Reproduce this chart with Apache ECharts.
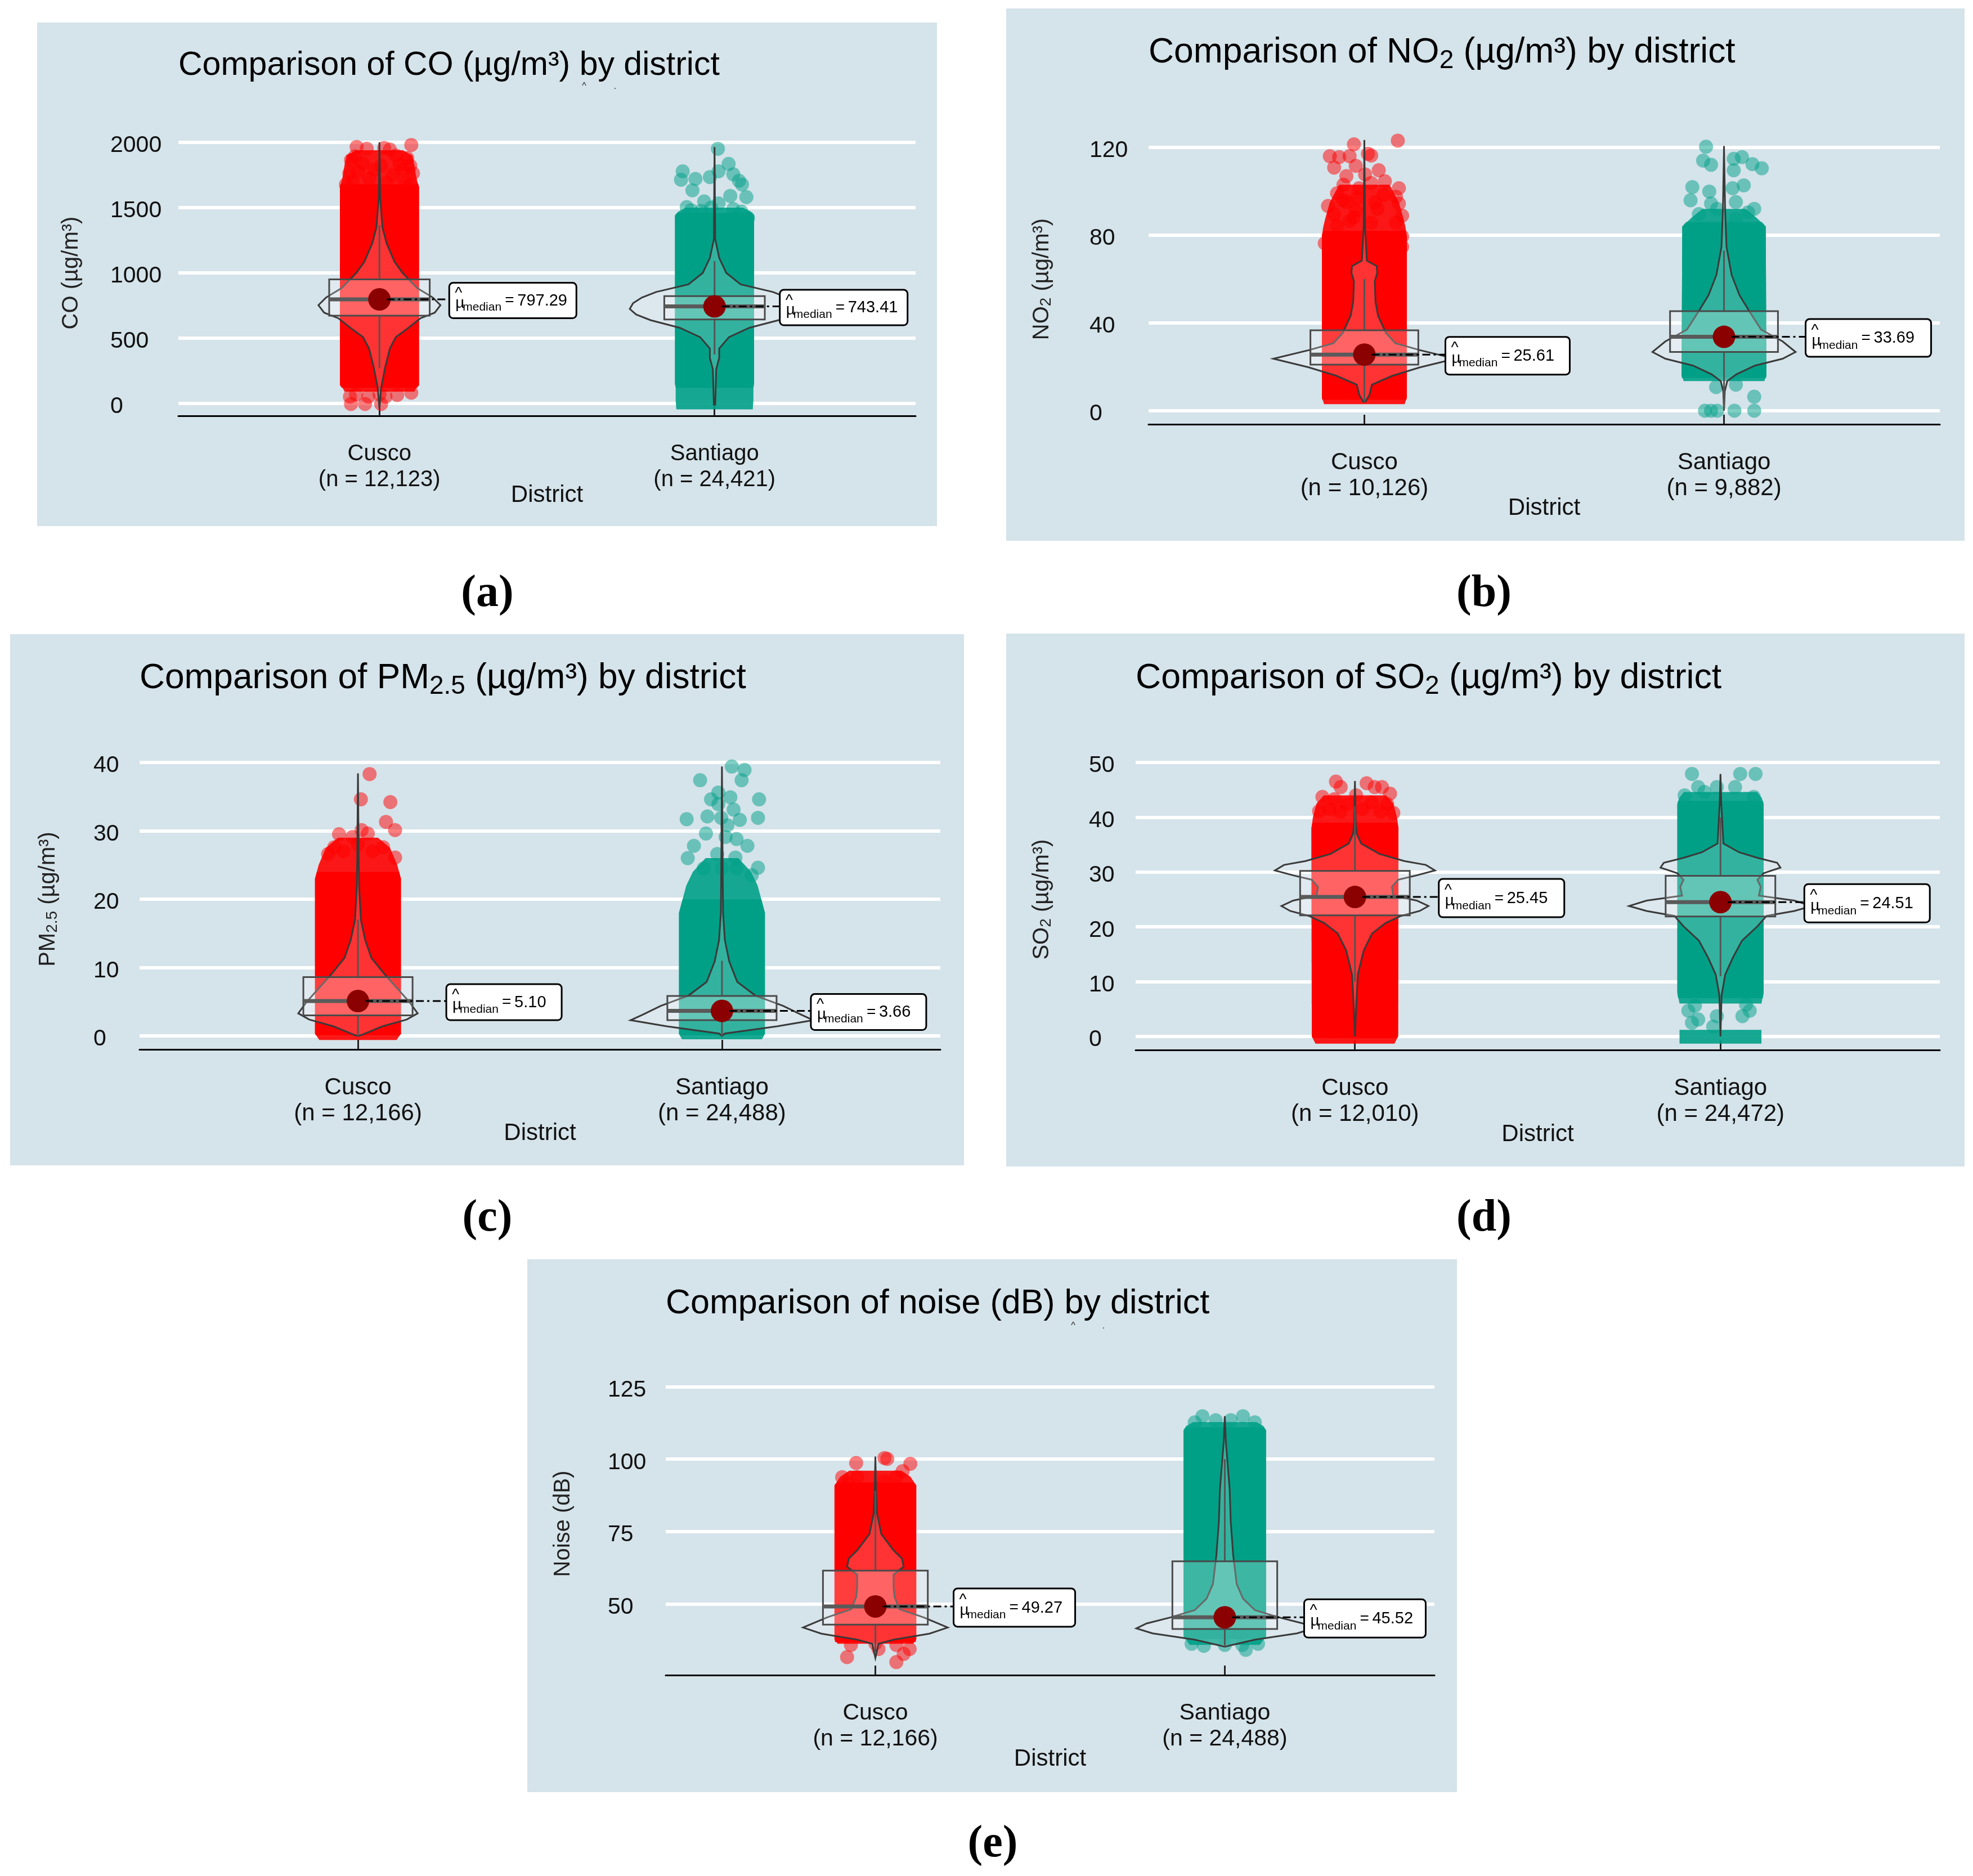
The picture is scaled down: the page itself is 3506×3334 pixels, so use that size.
<!DOCTYPE html>
<html><head><meta charset="utf-8"><style>html,body{margin:0;padding:0;background:#fff}#c{width:3506px;height:3334px}</style>
<script src="https://cdn.jsdelivr.net/npm/echarts@6/dist/echarts.min.js"></script></head><body><div id="c"></div>
<script>
const categories=['Cusco','Santiago'];
// sample sizes
const nCO=['12,123','24,421'],nNO2=['10,126','9,882'],nPM=['12,166','24,488'],nSO2=['12,010','24,472'],nNoise=['12,166','24,488'];
// medians
const medCO=[797.29,743.41],medNO2=[25.61,33.69],medPM=['5.10','3.66'],medSO2=[25.45,24.51],medNoise=[49.27,45.52];
// y axis ticks
const ticksCO=[0,500,1000,1500,2000],ticksNO2=[0,40,80,120],ticksPM=[0,10,20,30,40],ticksSO2=[0,10,20,30,40,50],ticksNoise=[50,75,100,125];
// boxes: group, q1, q3, lower whisker, upper whisker
const boxCO=[[1,672,950,270,1367],[2,643,822,375,1090]];
const boxNO2=[[1,21,36.7,4,60],[2,26.8,45.4,0,73]];
const boxPM=[[1,3,8.6,0,17],[2,2.3,5.85,0,11]];
const boxSO2=[[1,22.1,30.2,10,42],[2,21.9,29.3,11,40]];
const boxNoise=[[1,43,61.6,33,89],[2,41.5,64.8,35.4,100]];
// violin profiles: value, half width on the district axis
const vioCOcY=[2000,1580,1350,1230,1085,1000,883,810,753,695,652,580,508,421,277,118,-40],vioCOcW=[0,.002,.009,.021,.045,.069,.113,.16,.182,.165,.122,.087,.049,.031,.017,.005,0];
const vioCOsY=[1965,1258,1114,1000,912,854,811,768,724,681,638,580,508,421,349,262,-10],vioCOsW=[0,.002,.014,.035,.078,.174,.217,.243,.253,.234,.191,.104,.043,.014,.014,.005,.002];
const vioNOcY=[123.4,82.6,68.4,66,63,59,49.6,43.3,35.5,30.8,27.6,23.7,19.8,15.9,11.9,7.2,4.1],vioNOcW=[0,.002,.007,.034,.036,.029,.031,.038,.06,.086,.155,.253,.155,.077,.021,.014,.003];
const vioNOsY=[120.6,92,74.7,62,52.7,45.7,37,31.6,26.8,23.7,20.6,16.6,13.5,8.8,0],vioNOsW=[0,.003,.007,.021,.043,.069,.103,.163,.199,.163,.086,.034,.009,.002,0];
const vioPMcY=[38.4,26,22,17,14,11.4,8.9,6.9,4.9,3.3,2.4,1.4,.1,0],vioPMcW=[0,.002,.003,.008,.02,.037,.075,.109,.142,.164,.134,.067,.008,0];
const vioPMsY=[39.4,24,18,14,10.9,7.9,5.9,4.4,3.1,2.3,1.4,.35,0],vioPMsW=[0,.002,.003,.008,.02,.042,.092,.168,.218,.251,.151,.008,0];
const vioSOcY=[46.6,38.9,37,35.2,33.3,32,31.3,30.3,29.4,28.6,27.3,25.7,24.8,23.8,22.9,22,20.7,18.8,15.7,11.3,5,0],vioSOcW=[0,.002,.005,.017,.067,.135,.194,.219,.169,.118,.101,.105,.169,.201,.177,.126,.084,.047,.024,.008,.003,0];
const vioSOsY=[47.9,42.7,35.2,33.6,32.6,31.7,30.8,29.8,28.6,27.3,25.7,24.8,23.8,22.9,22,20.1,17.5,14.4,11.3,7.5,0],vioSOsW=[0,.002,.008,.051,.101,.155,.164,.118,.101,.11,.105,.202,.25,.202,.126,.101,.059,.034,.013,.003,0];
const vioNcY=[100.9,88.2,81.2,74.2,68.6,65.8,63,60.2,56,52.5,48.3,45.5,42,39.9,37.8,36.4,31.5],vioNcW=[0,.002,.005,.017,.052,.076,.081,.052,.052,.055,.069,.138,.207,.155,.052,.009,0];
const vioNsY=[114.8,106,89.5,78.4,67,57,52,48,45.5,43.4,41.7,40,37.8,35.4],vioNsW=[0,.003,.014,.017,.024,.034,.052,.086,.155,.224,.253,.207,.086,0];
// outer limits of the solid mass of overlapping observations
const massCOcY=[120,140,1660,1680],massCOcW=[.112,.118,.118,.116];
const massCOsY=[120,150,1440,1460],massCOsW=[.115,.118,.118,.112];
const massNOcY=[5,6,80,82],massNOcW=[.117,.118,.118,.112];
const massNOsY=[15,16,84,86],massNOsW=[.117,.118,.116,.105];
const massPMcY=[.1,.3,23,24],massPMcW=[.115,.118,.118,.113];
const massPMsY=[.1,.3,18,20],massPMsW=[.116,.118,.118,.108];
const massSOcY=[-.3,0,38,39],massSOcW=[.115,.118,.119,.116];
const massSOsY=[7,8,42.4,43],massSOsW=[.116,.118,.118,.116];
const massNcY=[37,38,91,92],massNcW=[.115,.117,.117,.11];
const massNsY=[38,39,110,111],massNsW=[.116,.118,.118,.112];
// thinner, partly see-through zones of the same mass
const hazeCOc=[[[90,.104],[130,.112],[140,.118],[1660,.118],[1700,.113],[1760,.108],[1830,.104],[1900,.098],[1940,.07]]];
const hazeCOs=[[[-45,.114],[25,.116],[120,.116],[150,.118],[1440,.118],[1470,.108],[1500,.085]]];
const hazeNOc=[[[3,.112],[6,.118],[80,.118],[84,.114],[88,.108],[95,.096],[103,.07]]];
const hazeNOs=[[[13.5,.112],[16,.118],[84,.116],[88,.09],[92,.06]]];
const hazePMc=[[[-.6,.106],[.3,.118],[23,.118],[25,.108],[27.5,.088],[29,.055]]];
const hazePMs=[[[-.5,.11],[.3,.118],[18,.118],[22,.098],[24,.08],[26,.045]]];
const hazeSOc=[[[-1.3,.108],[0,.118],[38,.119],[40,.115],[42.5,.105],[44,.085]]];
const hazeSOs=[[[6,.112],[8,.118],[42.4,.118],[43.5,.113],[44.6,.1]],[[-1.3,.112],[1.2,.112]]];
const hazeNc=[[[36.4,.108],[38,.117],[91,.117],[94,.1],[96,.075]]];
const hazeNs=[[[36,.1],[39,.118],[110,.118],[111.5,.11],[112.8,.09]]];
// individually visible observations
const ptsCOc=[[.932,1965],[.962,1951],[1.014,1957],[1.031,1945],[1.095,1980],[.927,1893],[1.049,1899],[.915,1864],[1.083,1879],[1.092,1821],[.91,1763],[.936,1778],[1.005,1821],[1.1,1763],[.9,1677],[.97,1720],[1.04,1749],[1.075,1691],[1.092,1677],[.95,1840],[1.06,1830],[.985,1790],[1.07,1790],[.92,1700],[1.02,1690],[.912,52],[.915,-4],[.957,-4],[1.005,-4],[1.053,65],[1.095,82],[.967,52],[1.018,52],[.93,70],[1.0,70]];
const ptsCOs=[[2.01,1951],[2.042,1835],[1.905,1778],[2.012,1778],[2.056,1755],[1.986,1734],[1.9,1714],[1.943,1720],[2.073,1706],[1.934,1633],[2.082,1677],[2.047,1590],[2.095,1581],[1.969,1547],[1.917,1504],[2.012,1532],[1.96,1475],[2.056,1489],[1.908,1403],[1.93,1480],[2.08,1470],[2.1,1420],[1.99,1500]];
const ptsNOc=[[1.093,123.1],[.971,121.4],[.904,116],[.93,115.6],[.959,116],[1.01,117.1],[1.019,116.3],[.916,110.8],[.976,111.6],[1.04,109.6],[.95,106.9],[1.002,107.7],[1.057,104.6],[.942,103],[1.019,103.8],[1.096,101.4],[.924,99.1],[.985,101.4],[1.088,97.5],[.899,93.3],[.95,95.1],[1.053,98.3],[1.096,94.4],[.976,91.2],[.916,89.6],[1.036,92],[1.105,88.9],[.959,86.5],[1.019,85.7],[1.088,85.7],[.924,84.2],[1.105,79.4],[.89,76.3],[1.105,74.7],[.98,97],[1.03,95],[.97,88],[.94,96]];
const ptsNOs=[[1.95,120.3],[1.942,114],[1.964,112.1],[2.027,114.8],[2.05,115.6],[2.027,109.6],[2.079,112.4],[2.105,110.5],[1.912,101.9],[1.959,99.9],[2.024,101.4],[2.055,102.7],[1.907,95.9],[1.964,94.4],[2.033,95.1],[2.084,92],[1.981,92],[1.93,89.6],[2.067,90.4],[2.033,87.3],[1.978,10.8],[2.033,11.9],[2.084,6.4],[1.947,0],[1.964,0],[1.981,0],[2.029,0],[2.084,0]];
const ptsPMc=[[1.032,38.3],[1.008,34.6],[1.089,34.2],[1.077,31.3],[1.102,30.1],[1.01,30.1],[.948,29.5],[.985,29.1],[1.027,29.6],[.935,27.6],[1.069,27.6],[.918,26.6],[1.102,26.1],[.96,27],[1.04,27],[1,28]];
const ptsPMs=[[2.027,39.4],[2.062,38.9],[2.054,37.4],[1.94,37.4],[1.99,35.6],[1.97,34.6],[2.023,34.9],[2.102,34.6],[1.99,33.9],[2.032,33.1],[1.96,32.1],[1.903,31.7],[1.998,31.9],[2.049,31.6],[2.099,31.9],[2.015,30.8],[1.956,29.6],[2.01,29.1],[2.04,28.8],[2.07,27.8],[1.923,27.8],[1.906,26],[1.987,26.6],[2.037,26.1],[2.099,24.6],[2.082,23.5],[2.04,24.5],[1.95,24.5],[2.0,24.5]];
const ptsSOc=[[.948,46.5],[.961,45.5],[1.032,46.2],[1.054,45.5],[1.074,45.5],[1.096,44.3],[.911,43.7],[1.003,44],[.944,43.3],[1.105,40.8],[.902,41.1],[1.046,42.7],[.978,42.4],[1.088,42.4],[.93,41.5],[1.02,41.5],[1.07,41],[.96,41]];
const ptsSOs=[[1.922,47.9],[2.054,47.9],[2.096,47.9],[1.939,45.5],[1.99,45.5],[2.04,45.5],[1.902,44],[2.091,43.7],[1.956,44.6],[1.912,4.7],[1.939,3.1],[1.922,2.5],[2.08,4.7],[2.06,3.7],[1.99,3.7],[1.93,5.6],[2.07,5.8],[1.98,1.8]];
const ptsNc=[[1.026,100.4],[1.034,100.1],[.945,98.7],[1.1,98.4],[.905,93.8],[1.078,95.9],[.948,93.8],[.922,91.7],[1.06,93.8],[1.026,92.4],[.919,31.8],[1.06,30.1],[1.081,32.9],[1.098,34.6],[1.009,34.6],[.93,36],[1.06,36],[1,36.5]];
const ptsNs=[[1.936,114.8],[2.052,114.8],[2.017,113.4],[1.914,112.7],[1.974,113.4],[2.086,112.7],[2.06,34.3],[1.905,36.4],[1.94,35.7],[2.095,36.4],[2,36],[2.05,36]];

const TICK_FONT=41,NAME_FONT=40,XNAME_FONT=42;
const panelDefs=[
 {bg:[66,40,1599,895],grid:[317,231,1310,508],y:[-95,2095],ticks:ticksCO,title:'{t|Comparison of CO (µg/m³) by district}',titleFont:59,labelFont:40,yName:'{n|CO (µg/m³)}',tag:['(a)',866,1056],titleY:81,nameGap:168,tickGap:121,xGap:45,xNameGap:120,n:nCO,med:medCO,box:boxCO,vio:[[vioCOcY,vioCOcW],[vioCOsY,vioCOsW]],mass:[[massCOcY,massCOcW],[massCOsY,massCOsW]],haze:[hazeCOc,hazeCOs],pts:[ptsCOc,ptsCOs],lab:[124,116],labW:[226,227],labH:63},
 {bg:[1788,15,1703,946],grid:[2041,238,1406,516],y:[-6.15,126.15],ticks:ticksNO2,title:'{t|Comparison of NO}{s|2}{t| (µg/m³) by district}',titleFont:62.4,labelFont:42,yName:'{n|NO}{ns|2}{n| (µg/m³)}',tag:['(b)',2637,1056],titleY:58,nameGap:167,tickGap:105,xGap:45,xNameGap:128,n:nNO2,med:medNO2,box:boxNO2,vio:[[vioNOcY,vioNOcW],[vioNOsY,vioNOsW]],mass:[[massNOcY,massNOcW],[massNOsY,massNOsW]],haze:[hazeNOc,hazeNOs],pts:[ptsNOc,ptsNOs],lab:[144,145],labW:[221,223],labH:67},
 {bg:[18,1127,1695,944],grid:[248,1331,1423,534],y:[-1.975,41.975],ticks:ticksPM,title:'{t|Comparison of PM}{s|2.5}{t| (µg/m³) by district}',titleFont:62.2,labelFont:42,yName:'{n|PM}{ns|2.5}{n| (µg/m³)}',tag:['(c)',866,2166],titleY:1170,nameGap:140,tickGap:82,xGap:45,xNameGap:128,n:nPM,med:medPM,box:boxPM,vio:[[vioPMcY,vioPMcW],[vioPMsY,vioPMsW]],mass:[[massPMcY,massPMcW],[massPMsY,massPMsW]],haze:[hazePMc,hazePMs],pts:[ptsPMc,ptsPMs],lab:[157,158],labW:[205,205],labH:64},
 {bg:[1788,1126,1703,947],grid:[2018,1331,1429,535],y:[-2.46,52.46],ticks:ticksSO2,title:'{t|Comparison of SO}{s|2}{t| (µg/m³) by district}',titleFont:62.5,labelFont:42,yName:'{n|SO}{ns|2}{n| (µg/m³)}',tag:['(d)',2637,2166],titleY:1170,nameGap:144,tickGap:83,xGap:45,xNameGap:129,n:nSO2,med:medSO2,box:boxSO2,vio:[[vioSOcY,vioSOcW],[vioSOsY,vioSOsW]],mass:[[massSOcY,massSOcW],[massSOsY,massSOsW]],haze:[hazeSOc,hazeSOs],pts:[ptsSOc,ptsSOs],lab:[149,149],labW:[223,223],labH:68},
 {bg:[937,2238,1652,947],grid:[1183,2439,1366,538],y:[25.6,129.9],ticks:ticksNoise,title:'{t|Comparison of noise (dB) by district}',titleFont:61,labelFont:41,yName:'{n|Noise (dB)}',tag:['(e)',1764,3278],titleY:2281,nameGap:160,tickGap:103,xGap:45,xNameGap:128,n:nNoise,med:medNoise,box:boxNoise,vio:[[vioNcY,vioNcW],[vioNsY,vioNsW]],mass:[[massNcY,massNcW],[massNsY,massNsW]],haze:[hazeNc,hazeNs],pts:[ptsNc,ptsNs],lab:[139,141],labW:[216,216],labH:68}
];
const colors=['#ff0000','#00a087'],hazeColors=['rgba(255,0,0,.9)','rgba(0,160,135,.9)'];
const font='"Liberation Sans"';
const titles=[],grids=[],xAxes=[],yAxes=[],series=[],graphics=[];
function zip(a,b){return a.map((v,i)=>[v,b[i]]);}
function profile(idx,g,rows,fill,stroke,z,name){
  series.push({type:'custom',name,xAxisIndex:idx,yAxisIndex:idx,z,silent:true,clip:false,data:rows,
    dimensions:['value','half'],encode:{x:1,y:0},
    renderItem:(p,api)=>{ if(p.dataIndex) return null;
      const left=rows.map(r=>api.coord([g-r[1],r[0]])),right=rows.map(r=>api.coord([g+r[1],r[0]])).reverse();
      return {type:'polygon',shape:{points:left.concat(right)},style:{fill,stroke:stroke||null,lineWidth:stroke?3:0}};
    }});
}
panelDefs.forEach((P,i)=>{
  graphics.push({type:'rect',z:-10,shape:{x:P.bg[0],y:P.bg[1],width:P.bg[2],height:P.bg[3]},style:{fill:'#d5e3ea'}});
  graphics.push({type:'text',x:P.tag[1],y:P.tag[2],style:{text:P.tag[0],font:'bold 80px "Liberation Serif"',fill:'#000',textAlign:'center',textVerticalAlign:'middle'}});
  const [gx,gy,gw,gh]=P.grid;
  grids.push({left:gx,top:gy,width:gw,height:gh,containLabel:false});
  titles.push({left:gx,top:P.titleY,padding:0,text:P.title,textStyle:{fontWeight:'normal',rich:{
     t:{fontFamily:font,fontWeight:'normal',fontSize:P.titleFont,color:'#000',height:72,lineHeight:72},
     s:{fontFamily:font,fontWeight:'normal',fontSize:46,color:'#000',height:44,lineHeight:44,verticalAlign:'bottom',padding:[34,0,0,0]}}}});
  xAxes.push({type:'value',gridIndex:i,min:.4,max:2.6,name:'District',nameLocation:'middle',nameGap:P.xNameGap,nameMoveOverlap:false,
    nameTextStyle:{fontFamily:font,fontSize:XNAME_FONT,color:'#111'},
    axisLine:{onZero:false,lineStyle:{color:'#000',width:3}},splitLine:{show:false},
    axisTick:{inside:true,length:17,customValues:[1,2],lineStyle:{color:'#222',width:3}},
    axisLabel:{customValues:[1,2],margin:P.xGap,fontFamily:font,fontSize:P.labelFont,color:'#111',lineHeight:46,hideOverlap:false,
      formatter:v=>categories[v-1]+'\n(n = '+P.n[v-1]+')'}});
  yAxes.push({type:'value',gridIndex:i,min:P.y[0],max:P.y[1],name:P.yName,nameLocation:'middle',nameGap:P.nameGap,
    nameTextStyle:{rich:{n:{fontFamily:font,fontSize:NAME_FONT,color:'#222',height:44,lineHeight:44},ns:{fontFamily:font,fontSize:28,color:'#222',height:30,lineHeight:30,verticalAlign:'bottom',padding:[22,0,0,0]}}},
    axisLine:{show:false},axisTick:{show:false,customValues:P.ticks},
    splitLine:{show:true,lineStyle:{color:'#fff',width:6}},
    axisLabel:{customValues:P.ticks,align:'left',verticalAlign:'top',lineHeight:12,margin:P.tickGap,fontFamily:font,fontSize:TICK_FONT,color:'#111',showMinLabel:true,showMaxLabel:true,formatter:v=>String(v)}});
  [0,1].forEach(k=>{
    const g=k+1,col=colors[k];
    P.haze[k].forEach(rows=>profile(i,g,rows,hazeColors[k],null,2,'thin mass '+categories[k]));
    profile(i,g,zip(P.mass[k][0],P.mass[k][1]),col,null,2,'mass '+categories[k]);
    series.push({type:'scatter',name:'observations '+categories[k],xAxisIndex:i,yAxisIndex:i,z:3,silent:true,symbolSize:25,clip:false,data:P.pts[k],itemStyle:{color:col,opacity:.5}});
    profile(i,g,zip(P.vio[k][0],P.vio[k][1]),'rgba(255,255,255,.2)','#3a3a3a',4,'violin '+categories[k]);
    const b=P.box[k],med=+P.med[k];
    series.push({type:'custom',name:'box '+categories[k],xAxisIndex:i,yAxisIndex:i,z:5,silent:true,clip:false,data:[[b[0],b[1],b[2],b[3],b[4],med]],encode:{x:0,y:5},
      renderItem:(p,api)=>{
        const X=api.value(0),hw=.15,
          tl=api.coord([X-hw,api.value(2)]),br=api.coord([X+hw,api.value(1)]),
          hi=api.coord([X,api.value(4)]),lo=api.coord([X,api.value(3)]),
          ml=api.coord([X-hw,api.value(5)]),mr=api.coord([X+hw,api.value(5)]);
        const ls={stroke:'#555',lineWidth:3};
        return {type:'group',children:[
          {type:'line',shape:{x1:hi[0],y1:hi[1],x2:hi[0],y2:tl[1]},style:ls},
          {type:'line',shape:{x1:lo[0],y1:br[1],x2:lo[0],y2:lo[1]},style:ls},
          {type:'rect',shape:{x:tl[0],y:tl[1],width:br[0]-tl[0],height:br[1]-tl[1]},style:{fill:'rgba(255,255,255,.24)',stroke:'#4a4a4a',lineWidth:3}},
          {type:'line',shape:{x1:ml[0],y1:ml[1],x2:mr[0],y2:mr[1]},style:{stroke:'#5a5a5a',lineWidth:7}}
        ]};
      }});
    series.push({type:'scatter',name:'median '+categories[k],xAxisIndex:i,yAxisIndex:i,z:6,silent:true,symbolSize:40,data:[[g,med]],itemStyle:{color:'#8b0000',opacity:1}});
    series.push({type:'custom',name:'median label '+categories[k],xAxisIndex:i,yAxisIndex:i,z:7,silent:true,clip:false,data:[[g,med]],encode:{x:0,y:1},
      renderItem:(p,api)=>{
        const c=api.coord([api.value(0),api.value(1)]),x=c[0]+P.lab[k],h=P.labH,w=P.labW[k],y=c[1]-h/2+2;
        const t=(s,dx,dy,size)=>({type:'text',x:x+dx,y:y+dy,style:{text:s,font:size+'px '+font,fill:'#000',textAlign:'left',textVerticalAlign:'middle'}});
        return {type:'group',children:[
          {type:'line',shape:{x1:c[0]+13,y1:c[1],x2:x,y2:c[1]},style:{stroke:'#000',lineWidth:3,lineDash:[14,6,4,6]}},
          {type:'rect',shape:{x,y,width:w,height:h,r:7},style:{fill:'#fff',stroke:'#000',lineWidth:3}},
          t('^',10,h*.3,28),t('µ',11,h*.58,28),t('median',24,h*.70,21),
          t('=',99,h*.51,28),t(String(P.med[k]),121,h*.51,29)
        ]};
      }});
  });
});
// small stray marks below two of the titles
[[1038,154],[1093,154],[1907,2357],[1961,2357]].forEach((m,i)=>{
  graphics.push({type:'text',x:m[0],y:m[1],style:{text:i%2?'.':'^',font:'16px '+font,fill:'#222',textAlign:'center',textVerticalAlign:'middle'}});
});
const chart=echarts.init(document.getElementById('c'),null,{renderer:'canvas',width:3506,height:3334});
chart.setOption({animation:false,backgroundColor:'#fff',title:titles,grid:grids,xAxis:xAxes,yAxis:yAxes,series,graphic:{elements:graphics},tooltip:{show:false},legend:{show:false}});
</script></body></html>
